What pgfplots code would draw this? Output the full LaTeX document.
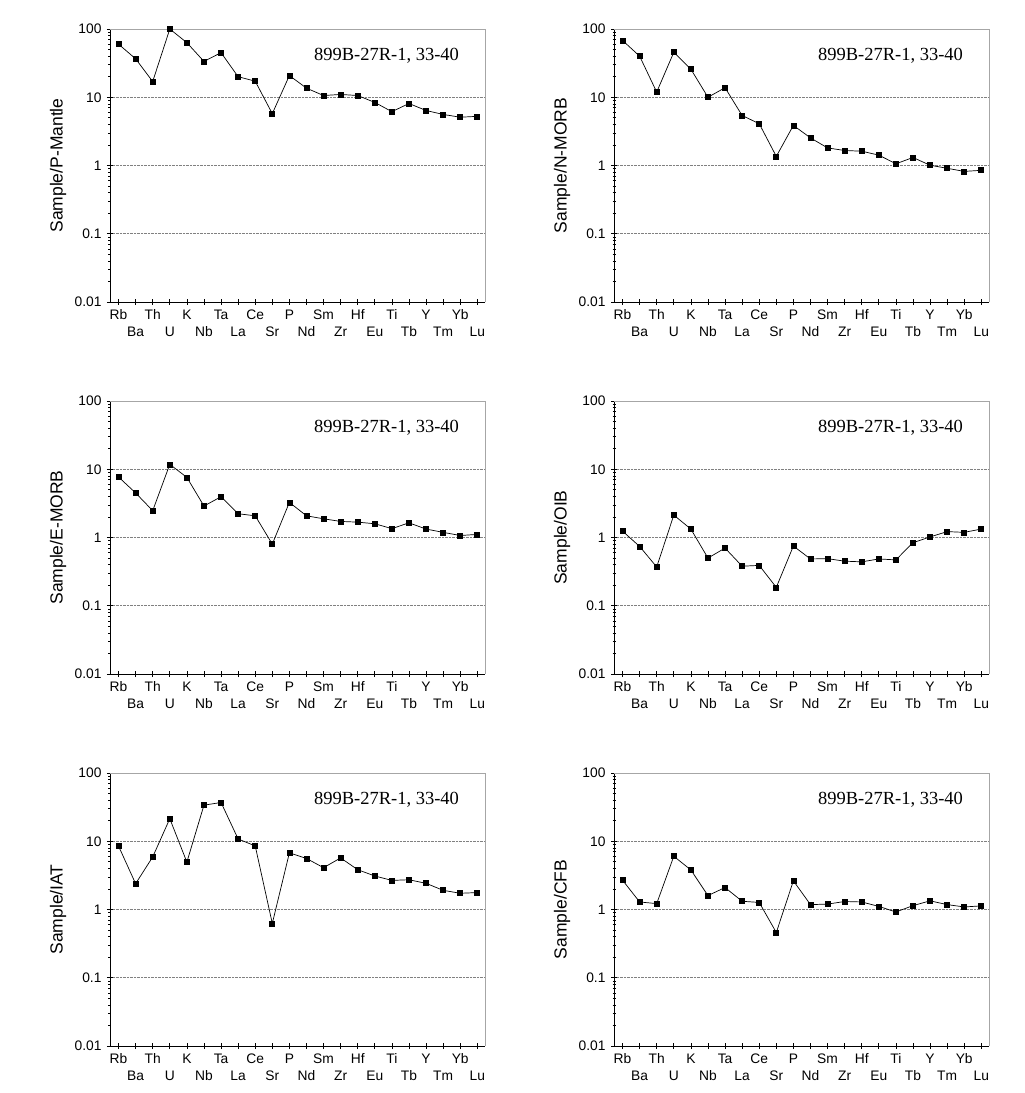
\documentclass[border=0pt]{standalone}
\usepackage{fontspec}
\setmainfont{Liberation Sans}
\newfontfamily\annfont{Liberation Serif}
\usepackage{pgfplots}
\usepackage{pgfplotstable}
\pgfplotsset{compat=1.18}

% normalised trace element values, x = element index
\pgfplotstableread{
x  pm    nm    em    oib   iat   cfb
0  60    68    7.7   1.24  8.5   2.69
1  36.6  40    4.5   0.74  2.39  1.29
2  17    11.9  2.47  0.37  5.9   1.22
3  100   45.6  11.8  2.13  21.4  6.03
4  63    25.8  7.6   1.33  4.95  3.8
5  33.5  10.0  2.89  0.50  33.8  1.6
6  45    13.8  3.96  0.70  37    2.1
7  20    5.4   2.23  0.38  10.8  1.32
8  17.2  4.1   2.08  0.39  8.55  1.27
9  5.75  1.36  0.80  0.186 0.625 0.46
10 20.8  3.87  3.27  0.75  6.76  2.63
11 13.6  2.54  2.08  0.485 5.6   1.18
12 10.6  1.81  1.88  0.49  4.1   1.2
13 11    1.66  1.72  0.45  5.7   1.31
14 10.6  1.62  1.68  0.44  3.83  1.29
15 8.4   1.42  1.59  0.485 3.1   1.11
16 6.15  1.06  1.35  0.47  2.67  0.92
17 8.1   1.31  1.64  0.84  2.73  1.14
18 6.4   1.01  1.33  1.02  2.42  1.34
19 5.6   0.91  1.19  1.22  1.91  1.18
20 5.1   0.82  1.07  1.19  1.73  1.09
21 5.25  0.85  1.11  1.33  1.77  1.13
}\data

\pgfplotsset{
  spiderplot/.style={
    scale only axis,
    width=375pt, height=273pt,
    anchor=north west,
    xmin=-0.5, xmax=21.45,
    ymin=0.01, ymax=100,
    axis x line*=bottom, axis y line*=left,
    axis line style={black, line width=0.9pt},
    tick align=center,
    major tick length=6pt, minor tick length=3pt,
    tick style={black, line width=0.7pt},
    ytick={0.01,0.1,1,10,100},
    yticklabels={0.01,0.1,1,10,100},
    xtick={0,2,...,20},
    xticklabels={Rb,Th,K,Ta,Ce,P,Sm,Hf,Ti,Y,Yb},
    extra x ticks={1,3,...,21},
    extra x tick labels={Ba,U,Nb,La,Sr,Nd,Zr,Eu,Tb,Tm,Lu},
    extra x tick style={tick label style={yshift=-17pt}},
    ymajorgrids=true,
    grid style={densely dotted, gray, line width=0.6pt},
    tick label style={font=\fontsize{13.8}{16}\selectfont},
    xticklabel style={yshift=-1pt},
    yticklabel style={xshift=-2pt},
    /pgf/number format/assume math mode=true,
    ylabel style={font=\fontsize{17.5}{20}\selectfont,
      at={(axis description cs:-0.107,0.5)}, anchor=south},
    clip=false,
  },
  spline/.style={black, line width=0.7pt, mark=square*, mark size=2.5pt},
}
\newcommand{\boxtop}{\draw[gray!70, line width=0.8pt] (rel axis cs:0,1) -- (rel axis cs:1,1) -- (rel axis cs:1,0);}
\newcommand{\sample}{\node[anchor=east, font=\annfont\fontsize{18.5}{20}\selectfont]
  at (rel axis cs:0.94,0.902) {899B-27R-1, 33-40};}

\begin{document}
\begin{tikzpicture}
\useasboundingbox (0,0) rectangle (1025pt,-1093pt);

\begin{semilogyaxis}[spiderplot, at={(110pt,-29pt)}, ylabel={Sample/P-Mantle}]
\boxtop
\addplot[spline] table[x=x, y=pm] {\data};
\sample
\end{semilogyaxis}

\begin{semilogyaxis}[spiderplot, at={(614pt,-29pt)}, ylabel={Sample/N-MORB}]
\boxtop
\addplot[spline] table[x=x, y=nm] {\data};
\sample
\end{semilogyaxis}

\begin{semilogyaxis}[spiderplot, at={(110pt,-401pt)}, ylabel={Sample/E-MORB}]
\boxtop
\addplot[spline] table[x=x, y=em] {\data};
\sample
\end{semilogyaxis}

\begin{semilogyaxis}[spiderplot, at={(614pt,-401pt)}, ylabel={Sample/OIB}]
\boxtop
\addplot[spline] table[x=x, y=oib] {\data};
\sample
\end{semilogyaxis}

\begin{semilogyaxis}[spiderplot, at={(110pt,-773pt)}, ylabel={Sample/IAT}]
\boxtop
\addplot[spline] table[x=x, y=iat] {\data};
\sample
\end{semilogyaxis}

\begin{semilogyaxis}[spiderplot, at={(614pt,-773pt)}, ylabel={Sample/CFB}]
\boxtop
\addplot[spline] table[x=x, y=cfb] {\data};
\sample
\end{semilogyaxis}
\end{tikzpicture}
\end{document}
